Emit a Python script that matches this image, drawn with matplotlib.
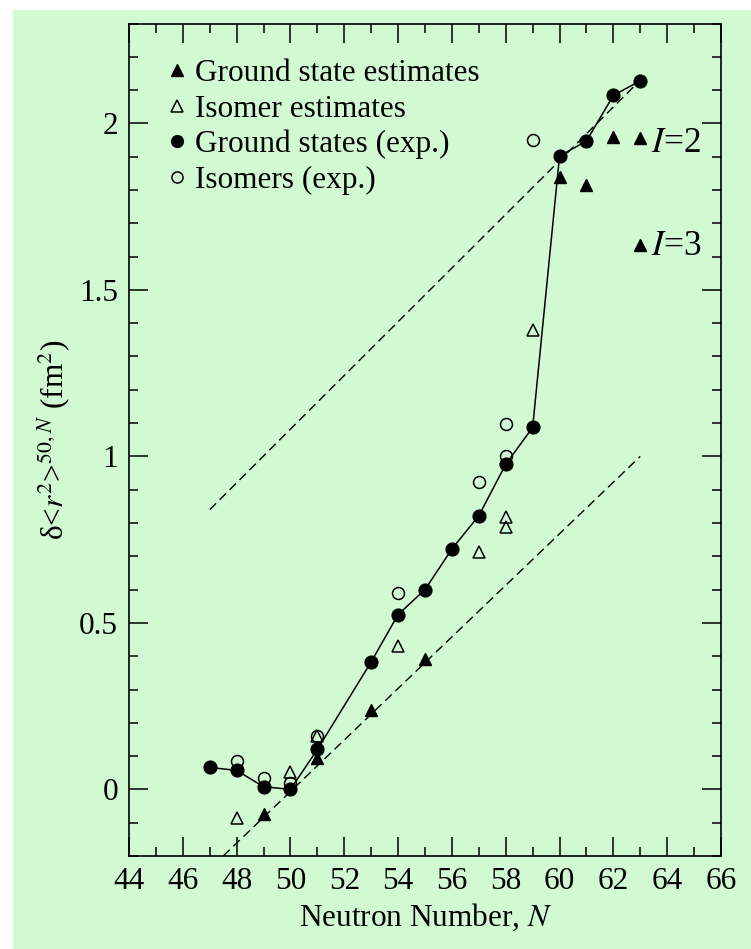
import matplotlib
matplotlib.use("Agg")
import matplotlib.pyplot as plt
from matplotlib.lines import Line2D
from matplotlib.patches import Rectangle
from matplotlib.ticker import MultipleLocator

# Значения: сдвиг среднеквадратичного радиуса относительно N=50
gs_exp_n = [47, 48, 49, 50, 51, 53, 54, 55, 56, 57, 58, 59, 60, 61, 62, 63]
gs_exp_val = [0.066, 0.057, 0.008, 0.0, 0.12, 0.383, 0.525, 0.60, 0.722,
              0.822, 0.976, 1.087, 1.902, 1.947, 2.084, 2.128]

iso_exp_n = [48, 49, 50, 51, 54, 57, 58, 58, 59]
iso_exp_val = [0.086, 0.033, 0.019, 0.161, 0.589, 0.924, 1.0, 1.096, 1.951]

gs_est_n = [49, 51, 53, 55, 60, 61, 62, 63, 63]
gs_est_val = [-0.073, 0.095, 0.237, 0.393, 1.839, 1.814, 1.959, 1.957, 1.636]

iso_est_n = [48, 50, 51, 54, 57, 58, 58, 59]
iso_est_val = [-0.086, 0.052, 0.16, 0.43, 0.712, 0.817, 0.787, 1.38]

# пунктирные линии тренда
upper_n = [47, 63]
upper_val = [0.84, 2.13]
lower_n = [47.5, 63]
lower_val = [-0.2, 1.0]

spin_labels = ['$I$=2', '$I$=3']
spin_pos = [(63.4, 1.94), (63.4, 1.63)]

green = '#d2fad2'
fs = 22.5

plt.rcParams['font.family'] = ['Liberation Serif', 'DejaVu Serif']
plt.rcParams['mathtext.fontset'] = 'stix'

fig = plt.figure(figsize=(7.51, 9.49), dpi=100, facecolor='white')
fig.patches.append(Rectangle((13 / 751, 0), 1, 1 - 10 / 949, transform=fig.transFigure,
                             facecolor=green, edgecolor='none', zorder=-10))
ax = fig.add_axes([129 / 751, 1 - 856 / 949, 592 / 751, 832.5 / 949])
ax.set_facecolor(green)

ax.plot(upper_n, upper_val, color='black', lw=1.0, dashes=(6.5, 3.6))
ax.plot(lower_n, lower_val, color='black', lw=1.0, dashes=(6.5, 3.6))

ax.plot(gs_exp_n, gs_exp_val, color='black', lw=1.1, marker='o', ms=9.2,
        mfc='black', mec='black', zorder=4)
ax.plot(iso_exp_n, iso_exp_val, ls='none', marker='o', ms=8.6,
        mfc='none', mec='black', mew=1.1, zorder=3)
ax.plot(gs_est_n, gs_est_val, ls='none', marker='^', ms=8.8,
        mfc='black', mec='black', zorder=3)
ax.plot(iso_est_n, iso_est_val, ls='none', marker='^', ms=8.8,
        mfc='none', mec='black', mew=1.1, zorder=3)

for lbl, (xn, yv) in zip(spin_labels, spin_pos):
    ax.text(xn, yv, lbl, fontsize=fs + 3, va='center', ha='left')

handles = [
    Line2D([], [], ls='none', marker='^', ms=8.0, mfc='black', mec='black'),
    Line2D([], [], ls='none', marker='^', ms=8.0, mfc='none', mec='black', mew=1.1),
    Line2D([], [], ls='none', marker='o', ms=8.5, mfc='black', mec='black'),
    Line2D([], [], ls='none', marker='o', ms=8.0, mfc='none', mec='black', mew=1.1),
]
labels = ['Ground state estimates', 'Isomer estimates',
          'Ground states (exp.)', 'Isomers (exp.)']
ax.legend(handles, labels, loc='upper left', bbox_to_anchor=(0.066, 0.957),
          frameon=False, fontsize=fs, handlelength=0.6, handletextpad=0.25,
          labelspacing=0.2, borderpad=0, borderaxespad=0)

ax.set_xlim(44, 66)
ax.set_ylim(-0.2, 2.3)
ax.xaxis.set_major_locator(MultipleLocator(2))
ax.xaxis.set_minor_locator(MultipleLocator(1))
ax.yaxis.set_major_locator(MultipleLocator(0.5))
ax.yaxis.set_minor_locator(MultipleLocator(0.1))
ax.set_yticks([0, 0.5, 1, 1.5, 2])
ax.set_yticklabels(['0', '0.5', '1', '1.5', '2'])

ax.tick_params(which='both', direction='in', top=True, right=True,
               width=1.1, labelsize=fs, pad=8)
ax.tick_params(which='major', length=13.5)
ax.tick_params(which='minor', length=6.5)
for sp in ax.spines.values():
    sp.set_linewidth(1.2)

ax.set_xlabel('Neutron Number, $N$', fontsize=fs, labelpad=4)
ax.set_ylabel('δ<$r^2$>$^{50,N}$ (fm$^2$)', fontsize=fs, labelpad=4)

fig.savefig('out.png', dpi=100, facecolor=fig.get_facecolor())
